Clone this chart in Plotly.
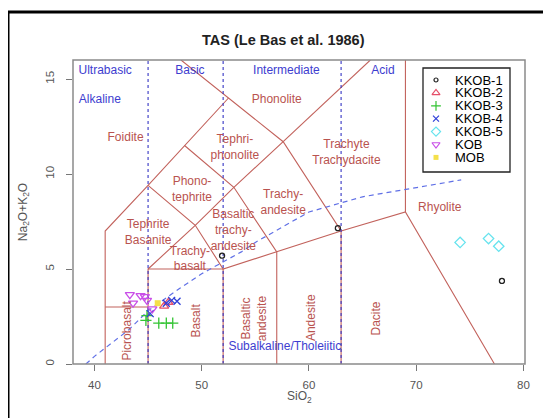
import plotly.graph_objects as go

# ---------------- data ----------------
series_names = ["KKOB-1", "KKOB-2", "KKOB-3", "KKOB-4", "KKOB-5", "KOB", "MOB"]
kkob1_sio2 = [51.9, 62.7, 78.0]
kkob1_alk = [5.7, 7.15, 4.37]
kkob2_sio2 = [46.5, 46.9]
kkob2_alk = [3.05, 3.25]
kkob3_sio2 = [44.9, 44.8, 46.0, 46.7, 47.3]
kkob3_alk = [2.55, 2.3, 2.15, 2.15, 2.15]
kkob4_sio2 = [45.2, 46.7, 47.2, 47.7]
kkob4_alk = [2.65, 3.2, 3.35, 3.3]
kkob5_sio2 = [74.1, 76.75, 77.7]
kkob5_alk = [6.4, 6.6, 6.2]
kob_sio2 = [43.3, 43.6, 44.3, 44.7, 44.9, 45.4]
kob_alk = [3.65, 3.2, 3.6, 3.55, 3.35, 2.9]
mob_sio2 = [45.9]
mob_alk = [3.2]

x_ticks = [40, 50, 60, 70, 80]
y_ticks = [0, 5, 10, 15]

# TAS field boundaries (Le Bas et al. 1986)
field_lines = [
    [(41, 0), (41, 7), (45, 9.4), (48.4, 11.5), (52.5, 14)],
    [(48.07, 16), (52.5, 14), (57.6, 11.7), (63, 7), (63, 0)],
    [(57.6, 11.7), (65.73, 16)],
    [(41, 3), (45, 3)],
    [(45, 0), (45, 5), (52, 5), (52, 0)],
    [(45, 5), (49.4, 7.3), (53, 9.3), (57.6, 11.7)],
    [(45, 9.4), (49.4, 7.3), (52, 5), (57, 5.9), (63, 7), (69, 8), (77.3, 0)],
    [(48.4, 11.5), (53, 9.3), (57, 5.9), (57, 0)],
    [(69, 8), (69, 16)],
]
silica_bounds = [45, 52, 63]
irvine_x = [39.2, 40, 43.2, 45, 48, 50, 53.7, 55, 60, 65, 74.2]
irvine_y = [0, 0.4, 1.8, 2.8, 4, 4.75, 5.9, 6.4, 8, 8.8, 9.69]

field_labels = ["Foidite", "Phonolite", "Tephri-<br>phonolite", "Trachyte<br>Trachydacite",
                "Phono-<br>tephrite", "Trachy-<br>andesite", "Tephrite<br>Basanite",
                "Basaltic<br>trachy-<br>andesite", "Trachy-<br>basalt", "Rhyolite"]
field_label_x = [42.9, 57.0, 53.1, 63.5, 49.1, 57.6, 45.0, 52.95, 48.9, 72.2]
field_label_y = [11.88, 13.9, 11.38, 11.09, 9.16, 8.46, 6.88, 7.0, 5.5, 8.2]

rot_labels = ["Picrobasalt", "Basalt", "Basaltic<br>andesite", "Andesite", "Dacite"]
rot_label_x = [43.0, 49.5, 54.9, 60.2, 66.3]
rot_label_y = [1.74, 2.3, 2.42, 2.42, 2.42]

blue_labels = ["Ultrabasic", "Basic", "Intermediate", "Acid", "Alkaline", "Subalkaline/Tholeiitic"]
blue_label_x = [41.0, 48.9, 57.9, 66.9, 40.5, 57.75]
blue_label_y = [15.42, 15.42, 15.42, 15.42, 13.9, 0.9]

# ---------------- styling ----------------
FONT = "Arial, Liberation Sans, sans-serif"
RED = "#B9534F"
BLUE_TXT = "#3D3DCF"
styles = [
    dict(symbol="circle-open", size=5, color="#222222"),
    dict(symbol="triangle-up-open", size=8, color="#E5506A"),
    dict(symbol="cross-thin-open", size=8, color="#33C433"),
    dict(symbol="x-thin-open", size=7, color="#3040D8"),
    dict(symbol="diamond-open", size=8, color="#66E3EE"),
    dict(symbol="triangle-down-open", size=8, color="#C94FE8"),
    dict(symbol="square", size=6, color="#F4E04A"),
]
data_x = [kkob1_sio2, kkob2_sio2, kkob3_sio2, kkob4_sio2, kkob5_sio2, kob_sio2, mob_sio2]
data_y = [kkob1_alk, kkob2_alk, kkob3_alk, kkob4_alk, kkob5_alk, kob_alk, mob_alk]

# page has an 8px body margin: figure is sized/offset to compensate
OFF = 8
W, H = 551 - OFF, 418 - OFF
L, T = 73 - OFF, 60 - OFF
R = W - (525 - OFF)
B = H - (364 - OFF)
pw, ph = W - L - R, H - T - B


def px2paper(px, py):
    """reference-screenshot pixel -> paper coords"""
    return (px - OFF - L) / pw, 1 - (py - OFF - T) / ph


fig = go.Figure()

# field boundaries
lx, ly = [], []
for poly in field_lines:
    for (a, b) in poly:
        lx.append(a)
        ly.append(b)
    lx.append(None)
    ly.append(None)
fig.add_trace(go.Scatter(x=lx, y=ly, mode="lines", line=dict(color="#C2625C", width=1.1),
                         hoverinfo="skip", showlegend=False))

# silica boundaries
sx, sy = [], []
for s in silica_bounds:
    sx += [s, s, None]
    sy += [0, 16, None]
fig.add_trace(go.Scatter(x=sx, y=sy, mode="lines", line=dict(color="#3434C4", width=1.1, dash="dot"),
                         hoverinfo="skip", showlegend=False))

# Irvine & Baragar
fig.add_trace(go.Scatter(x=irvine_x, y=irvine_y, mode="lines",
                         line=dict(color="#6070E6", width=1.2, dash="5px,4px"),
                         hoverinfo="skip", showlegend=False))

# labels
fig.add_trace(go.Scatter(x=field_label_x, y=field_label_y, text=field_labels, mode="text",
                         textfont=dict(family=FONT, size=12, color=RED), hoverinfo="skip",
                         showlegend=False))
fig.add_trace(go.Scatter(x=blue_label_x, y=blue_label_y, text=blue_labels, mode="text",
                         textfont=dict(family=FONT, size=12, color=BLUE_TXT), hoverinfo="skip",
                         showlegend=False))

annotations = []
for t, x, y in zip(rot_labels, rot_label_x, rot_label_y):
    annotations.append(dict(x=x, y=y, xref="x", yref="y", text=t, textangle=-90, showarrow=False,
                            font=dict(family=FONT, size=12, color=RED)))

# data points
for name, st, xs, ys in zip(series_names, styles, data_x, data_y):
    filled = not st["symbol"].endswith("open")
    fig.add_trace(go.Scatter(x=xs, y=ys, mode="markers", name=name, showlegend=False,
                             marker=dict(symbol=st["symbol"], size=st["size"], color=st["color"],
                                         line=dict(color=st["color"], width=0 if filled else 1.3))))

# ---------------- frames & manual legend ----------------
leg_x0, leg_y0 = px2paper(423, 68)
leg_x1, leg_y1 = px2paper(510, 172)
fx0, fy0 = px2paper(8, 12)
shapes = [
    dict(type="rect", xref="paper", yref="paper", x0=0, x1=1, y0=0, y1=1,
         line=dict(color="#8A8A8A", width=1.5)),
    dict(type="rect", xref="paper", yref="paper", x0=leg_x0, x1=leg_x1, y0=leg_y1, y1=leg_y0,
         fillcolor="white", line=dict(color="#222222", width=1.3), layer="below"),
    dict(type="rect", xref="paper", yref="paper", x0=fx0, x1=1.2, y0=-0.4, y1=fy0,
         line=dict(color="black", width=3)),
]

for i, (name, st) in enumerate(zip(series_names, styles)):
    py = 80 + i * 12.9
    mx, my = px2paper(436, py)
    tx, _ = px2paper(453, py)
    filled = not st["symbol"].endswith("open")
    fig.add_trace(go.Scatter(x=[mx], y=[my], xaxis="x2", yaxis="y2", mode="markers", showlegend=False,
                             hoverinfo="skip",
                             marker=dict(symbol=st["symbol"], size=st["size"] - 1, color=st["color"],
                                         line=dict(color=st["color"], width=0 if filled else 1.2))))
    annotations.append(dict(x=tx, y=my, xref="paper", yref="paper", text=name, showarrow=False,
                            xanchor="left", yanchor="middle",
                            font=dict(family=FONT, size=13, color="black")))

# title and x-axis title
tx, ty = px2paper(283, 30)
annotations.append(dict(x=tx, y=ty, xref="paper", yref="paper", text="<b>TAS (Le Bas et al. 1986)</b>",
                        showarrow=False, font=dict(family=FONT, size=14.5, color="#222222")))
ax_x, ax_y = px2paper(299, 407)
annotations.append(dict(x=ax_x, y=ax_y, xref="paper", yref="paper", text="SiO<sub>2</sub>",
                        showarrow=False, font=dict(family=FONT, size=12, color="#555555")))

fig.update_layout(
    width=W, height=H,
    margin=dict(l=L, r=R, t=T, b=B),
    paper_bgcolor="white", plot_bgcolor="white",
    showlegend=False,
    xaxis=dict(range=[38, 80.15], tickvals=x_ticks, ticks="outside", ticklen=6, tickcolor="#777777",
               showgrid=False, zeroline=False, showline=False,
               tickfont=dict(family=FONT, size=11.5, color="#555555"), ticklabelstandoff=4),
    yaxis=dict(range=[0, 16], tickvals=y_ticks, ticks="outside", ticklen=6, tickcolor="#777777",
               showgrid=False, zeroline=False, showline=False, tickangle=-90,
               tickfont=dict(family=FONT, size=11.5, color="#555555"), ticklabelstandoff=7,
               title=dict(text="Na<sub>2</sub>O+K<sub>2</sub>O", standoff=14,
                          font=dict(family=FONT, size=12, color="#555555"))),
    xaxis2=dict(range=[0, 1], overlaying="x", anchor="y2", visible=False, fixedrange=True),
    yaxis2=dict(range=[0, 1], overlaying="y", anchor="x2", visible=False, fixedrange=True),
    shapes=shapes,
    annotations=annotations,
)

fig.write_html("out.html")
